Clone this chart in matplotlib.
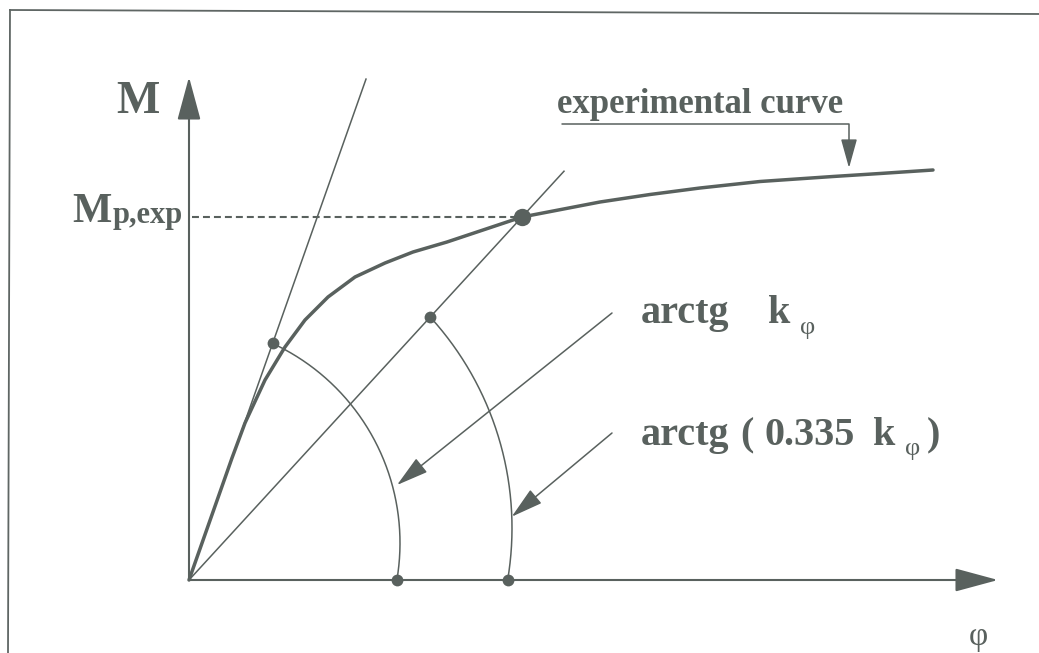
import numpy as np
import matplotlib
matplotlib.use("Agg")
import matplotlib.pyplot as plt
from matplotlib.patches import FancyArrowPatch
from matplotlib.path import Path
from matplotlib.lines import Line2D

plt.rcParams["lines.scale_dashes"] = False

# Experimental moment-rotation curve (rotation phi, moment M), schematic units
phi_exp = [0.0, 0.43, 0.56, 0.76, 0.96, 1.16, 1.39, 1.66, 1.96, 2.24, 2.58,
           3.33, 4.11, 4.61, 5.11, 5.71, 6.44, 6.91, 7.44]
M_exp = [0.0, 1.22, 1.57, 2.00, 2.33, 2.60, 2.83, 3.03, 3.17, 3.28, 3.38,
         3.63, 3.78, 3.855, 3.92, 3.985, 4.035, 4.065, 4.10]

# Plastic moment point taken on the experimental curve
phi_p, M_p = 3.33, 3.63

# Initial rotational stiffness k_phi and the secant through (phi_p, M_p)
k_init = 2.83
k_sec = M_p / phi_p
phi_init_end = 1.77
phi_sec_end = 3.75

# Angle arcs: (centre, radius) for the k_phi arc and for the secant arc
arc_init = ((-0.09, 0.37), 2.20)
arc_sec = ((0.10, 0.52), 3.13)

# Text labels
label_M = "M"
label_Mp = ("M", "p,exp")
label_exp = "experimental curve"
label_k = ("arctg", "k", "φ")
label_ks = ("arctg", "(", "0.335", "k", "φ", ")")
label_phi = "φ"

INK = "#59615e"
SERIF = ["Liberation Serif", "DejaVu Serif"]

fig = plt.figure(figsize=(10.39, 6.53), dpi=100)
fig.patch.set_facecolor("white")
ax = fig.add_axes([0, 0, 1, 1])
ax.set_xlim(-1.89, 8.50)
ax.set_ylim(-0.73, 5.80)
ax.axis("off")

# page frame (left and top rules of the figure box)
W, H = 1039.0, 653.0
fig.add_artist(Line2D([10 / W, 1.0], [1 - 10 / H, 1 - 14 / H],
                      transform=fig.transFigure, color="#5f6664", lw=1.3))
fig.add_artist(Line2D([10 / W, 8 / W], [1 - 10 / H, 0.0],
                      transform=fig.transFigure, color="#5f6664", lw=1.3))


def arrow(p0, p1, lw, hl, hw, path=None):
    style = f"-|>,head_length={hl},head_width={hw}"
    if path is not None:
        a = FancyArrowPatch(path=path, arrowstyle=style, mutation_scale=1,
                            color=INK, lw=lw, shrinkA=0, shrinkB=0)
    else:
        a = FancyArrowPatch(p0, p1, arrowstyle=style, mutation_scale=1,
                            color=INK, lw=lw, shrinkA=0, shrinkB=0)
    ax.add_patch(a)


# axes with arrow heads
arrow((0, 0), (0, 5.03), 1.5, 27, 7.3)
arrow((0, 0), (8.09, 0), 1.5, 27, 7.3)

# initial stiffness line and secant line
ax.plot([0, phi_init_end], [0, k_init * phi_init_end], color=INK, lw=1.1)
ax.plot([0, phi_sec_end], [0, k_sec * phi_sec_end], color=INK, lw=1.1)

# experimental curve
ax.plot(phi_exp, M_exp, color=INK, lw=2.5, solid_joinstyle="round",
        solid_capstyle="round")

# dashed level of M_p,exp
ax.plot([0.03, phi_p], [M_p, M_p], color=INK, lw=1.5, ls=(0, (5.0, 2.9)))
ax.plot([phi_p], [M_p], "o", color=INK, ms=12.5, mec="none")


def draw_arc(k, arc):
    (cx, cy), R = arc
    # where the line M = k*phi meets the arc
    a = 1 + k * k
    b = -2 * (cx + k * cy)
    c = cx * cx + cy * cy - R * R
    x0 = (-b + np.sqrt(b * b - 4 * a * c)) / (2 * a)
    y0 = k * x0
    t0 = np.arctan2(y0 - cy, x0 - cx)
    t1 = -np.arcsin(cy / R)
    t = np.linspace(t1, t0, 200)
    ax.plot(cx + R * np.cos(t), cy + R * np.sin(t), color=INK, lw=1.1)
    xb = cx + R * np.cos(t1)
    ax.plot([x0, xb], [y0, 0], "o", color=INK, ms=8.5, mec="none")
    return xb


draw_arc(k_init, arc_init)
draw_arc(k_sec, arc_sec)

# pointers to the two angles
arrow((4.23, 2.67), (2.08, 0.95), 1.1, 20, 5.5)
arrow((4.23, 1.47), (3.227, 0.633), 1.1, 20, 5.5)

# pointer to the experimental curve
exp_path = Path([(3.73, 4.56), (6.60, 4.56), (6.60, 4.12)])
arrow(None, None, 1.1, 18, 5.0, path=exp_path)

bold = dict(family=SERIF, weight="bold", color=INK, va="baseline", ha="left")
reg = dict(family=SERIF, weight="normal", color=INK, va="baseline", ha="left")

ax.text(-0.515, 4.78, label_M, fontsize=33, weight="bold", family=SERIF,
        color=INK, ha="center", va="center")
ax.text(-1.17, 3.58, label_Mp[0], fontsize=30, **bold)
ax.text(-0.765, 3.565, label_Mp[1], fontsize=22, **bold)

ax.text(3.68, 4.67, label_exp, fontsize=25, **bold)

ax.text(4.52, 2.57, label_k[0], fontsize=29, **bold)
ax.text(5.79, 2.57, label_k[1], fontsize=29, **bold)
ax.text(6.11, 2.46, label_k[2], fontsize=19, **reg)

ax.text(4.52, 1.35, label_ks[0], fontsize=29, **bold)
ax.text(5.51, 1.35, label_ks[1], fontsize=29, **bold)
ax.text(5.76, 1.35, label_ks[2], fontsize=29, **bold)
ax.text(6.84, 1.35, label_ks[3], fontsize=29, **bold)
ax.text(7.16, 1.25, label_ks[4], fontsize=19, **reg)
ax.text(7.38, 1.35, label_ks[5], fontsize=29, **bold)

ax.text(7.89, -0.57, label_phi, fontsize=24, family=SERIF, color=INK,
        ha="center", va="center")

fig.savefig("out.png", dpi=100, facecolor="white")
